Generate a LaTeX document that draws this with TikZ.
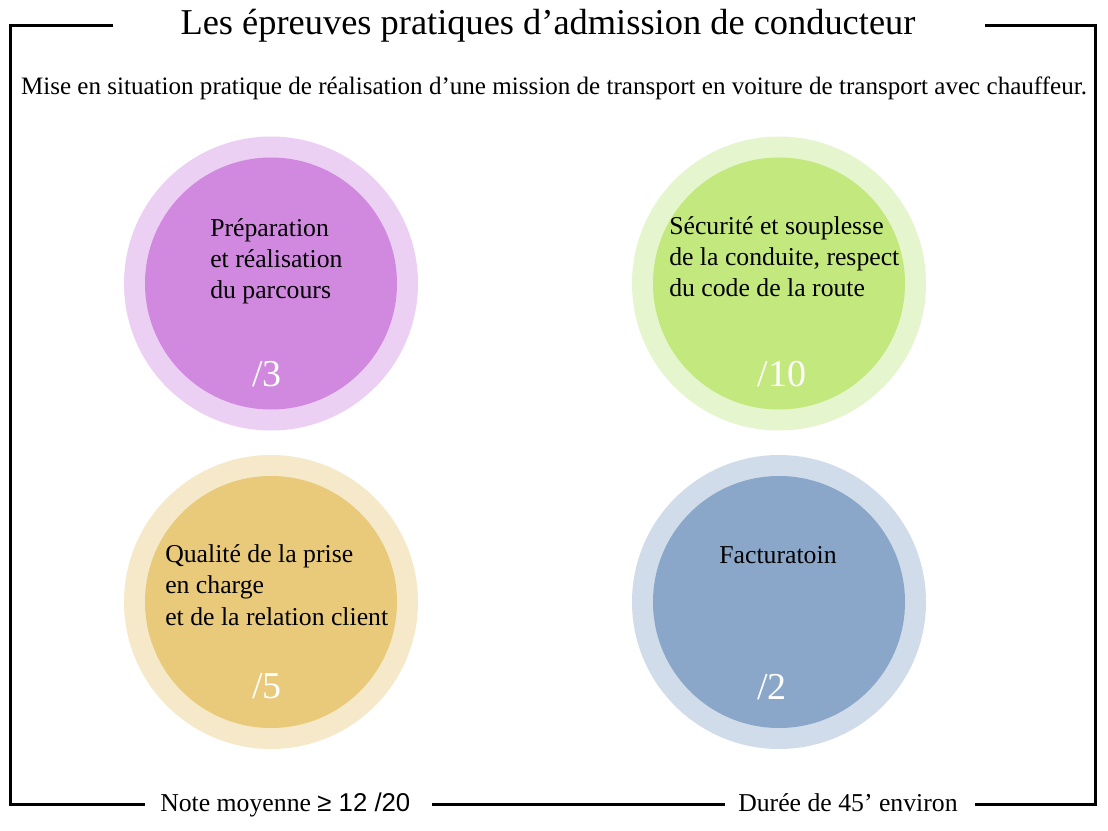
\documentclass[tikz,border=0pt]{standalone}
\usepackage{fontspec}
\setmainfont{Liberation Serif}
\newfontfamily\sansf{Liberation Sans}
\definecolor{purpO}{HTML}{ECD0F3}
\definecolor{purpI}{HTML}{D189E0}
\definecolor{grnO}{HTML}{E5F5CD}
\definecolor{grnI}{HTML}{C3E87D}
\definecolor{goldO}{HTML}{F6E9C9}
\definecolor{goldI}{HTML}{E8CA7A}
\definecolor{bluO}{HTML}{D0DCE9}
\definecolor{bluI}{HTML}{8AA7C9}
\tikzset{
  outerdisc/.style={circle, inner sep=0pt, minimum size=220.5pt},
  innerdisc/.style={circle, inner sep=0pt, minimum size=189pt},
  body/.style={inner sep=0pt, align=left, font=\fontsize{19.3}{23.4}\selectfont},
  score/.style={inner sep=0pt, anchor=base, text=white, font=\fontsize{28.5}{30}\selectfont},
  frameline/.style={line width=2.25pt},
  title/.style={inner sep=0pt, anchor=base, font=\fontsize{27.3}{30}\selectfont},
  subtitle/.style={inner sep=0pt, anchor=base, font=\fontsize{18.8}{22}\selectfont},
  foot/.style={inner sep=0pt, anchor=base west, font=\fontsize{19.3}{22}\selectfont}
}
\begin{document}
\begin{tikzpicture}[x=0.75pt, y=-0.75pt]
\useasboundingbox (0,0) rectangle (1108,831);
\fill[white] (0,0) rectangle (1108,831);
% frame
\coordinate (tl1) at (113,26);
\coordinate (tl0) at (10,26);
\coordinate (bl0) at (10,804);
\coordinate (bl1) at (145,804);
\coordinate (bm0) at (432,804);
\coordinate (bm1) at (725,804);
\coordinate (br1) at (975,804);
\coordinate (br0) at (1095,804);
\coordinate (tr0) at (1095,26);
\coordinate (tr1) at (985,26);
\draw[frameline] (tl1) -- (tl0) -- (bl0) -- (bl1);
\draw[frameline] (bm0) -- (bm1);
\draw[frameline] (br1) -- (br0) -- (tr0) -- (tr1);
% texts
\node[title] (ttl) at (548,35) {Les épreuves pratiques d’admission de conducteur};
\node[subtitle] (sub) at (554,95) {Mise en situation pratique de réalisation d’une mission de transport en voiture de transport avec chauffeur.};
\node[foot] (note) at (160,811) {Note moyenne {\sansf ≥ 12 /20}};
\node[foot] (duree) at (738,811) {Durée de 45’ environ};
% circles
\node[outerdisc, fill=purpO] (c1o) at (271,283.5) {};
\node[innerdisc, fill=purpI] (c1i) at (271,283.5) {};
\node[outerdisc, fill=grnO] (c2o) at (779,283.5) {};
\node[innerdisc, fill=grnI] (c2i) at (779,283.5) {};
\node[outerdisc, fill=goldO] (c3o) at (271,602) {};
\node[innerdisc, fill=goldI] (c3i) at (271,602) {};
\node[outerdisc, fill=bluO] (c4o) at (779,602) {};
\node[innerdisc, fill=bluI] (c4i) at (779,602) {};
% circle texts (base anchor = last line)
\node[body, anchor=base west] (t1) at (210,299) {Préparation\\et réalisation\\du parcours};
\node[body, anchor=base west] (t2) at (669,297) {Sécurité et souplesse\\de la conduite, respect\\du code de la route};
\node[body, anchor=base west] (t3) at (165,625) {Qualité de la prise\\en charge\\et de la relation client};
\node[body, anchor=base] (t4) at (778,563) {Facturatoin};
\node[score] (s1) at (267,387) {/3};
\node[score] (s2) at (782,387) {/10};
\node[score] (s3) at (267,698) {/5};
\node[score] (s4) at (772,699) {/2};
\end{tikzpicture}
\end{document}
